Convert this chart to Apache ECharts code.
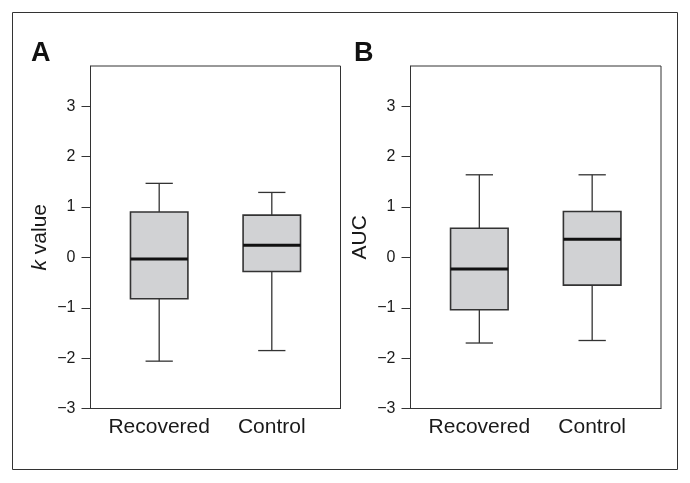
<!DOCTYPE html>
<html>
<head>
<meta charset="utf-8">
<script src="https://cdn.jsdelivr.net/npm/echarts@6/dist/echarts.min.js"></script>
<style>
html,body{margin:0;padding:0;background:#fff;}
#c{width:690px;height:483px;}
</style>
</head>
<body>
<div id="c"></div>
<script>
// Data (box statistics: [low whisker, Q1, median, Q3, high whisker])
const categories = ['Recovered', 'Control'];
const kValueBoxes = [
  [-2.06, -0.82, -0.03, 0.90, 1.47],
  [-1.85, -0.28, 0.24, 0.84, 1.29]
];
const aucBoxes = [
  [-1.70, -1.04, -0.23, 0.58, 1.64],
  [-1.65, -0.55, 0.36, 0.91, 1.64]
];
const yTicks = [-3, -2, -1, 0, 1, 2, 3];
const panelLetters = ['A', 'B'];
const yNames = ['k value', 'AUC'];

const FONT = '"Liberation Sans", Arial, Helvetica, sans-serif';
const TXT = '#1a1a1a';
const LINE = '#333';

function toSeriesData(boxes) {
  return boxes.map((b, i) => [i + 1].concat(b));
}

function renderBox(params, api) {
  const x = api.value(0);
  const low = api.value(1), q1 = api.value(2), med = api.value(3), q3 = api.value(4), high = api.value(5);
  const hw = 0.255, cw = 0.121;
  const p = (a, b) => api.coord([a, b]);
  const tl = p(x - hw, q3), br = p(x + hw, q1);
  const ln = (a, b, w, c) => ({
    type: 'line',
    shape: { x1: a[0], y1: a[1], x2: b[0], y2: b[1] },
    style: { stroke: c || LINE, lineWidth: w }
  });
  return {
    type: 'group',
    children: [
      ln(p(x, q3), p(x, high), 1.3),
      ln(p(x - cw, high), p(x + cw, high), 1.3),
      ln(p(x, q1), p(x, low), 1.3),
      ln(p(x - cw, low), p(x + cw, low), 1.3),
      {
        type: 'rect',
        shape: { x: tl[0], y: tl[1], width: br[0] - tl[0], height: br[1] - tl[1] },
        style: { fill: '#d1d2d4', stroke: LINE, lineWidth: 1.6 }
      },
      ln(p(x - hw, med), p(x + hw, med), 3, '#111')
    ]
  };
}

const grids = [
  { left: 90.5, top: 66, width: 250, height: 342.5 },
  { left: 410.5, top: 66, width: 250.5, height: 342.5 }
];

const xAxes = grids.map((g, i) => ({
  type: 'value', gridIndex: i, min: 0.39, max: 2.61,
  axisLine: { show: true, onZero: false, lineStyle: { color: LINE, width: 1 } },
  axisTick: { show: false },
  splitLine: { show: false },
  axisLabel: {
    customValues: [1, 2],
    formatter: v => categories[Math.round(v) - 1] || '',
    color: TXT, fontSize: 21, fontFamily: FONT, margin: 8
  }
}));

const yAxes = grids.map((g, i) => ({
  type: 'value', gridIndex: i, min: -3, max: 3.8,
  name: i === 0 ? '{i|k} value' : yNames[1],
  nameLocation: 'middle', nameGap: 40, nameRotate: 90,
  nameTextStyle: {
    color: TXT, fontSize: 21, fontFamily: FONT,
    rich: { i: { fontStyle: 'italic', fontSize: 21, fontFamily: FONT, color: TXT } }
  },
  axisLine: { show: true, onZero: false, lineStyle: { color: LINE, width: 1 } },
  axisTick: { show: true, length: 9, customValues: yTicks, lineStyle: { color: LINE, width: 1 } },
  splitLine: { show: false },
  axisLabel: {
    customValues: yTicks,
    formatter: v => String(v).replace('-', '\u2212'),
    color: TXT, fontSize: 16, fontFamily: FONT, margin: 15
  }
}));

const chart = echarts.init(document.getElementById('c'), null, { renderer: 'canvas' });
chart.setOption({
  animation: false,
  backgroundColor: '#fff',
  grid: grids.map(g => Object.assign({ show: true, borderColor: LINE, borderWidth: 1, backgroundColor: 'transparent' }, g)),
  xAxis: xAxes,
  yAxis: yAxes,
  graphic: [
    {
      type: 'rect', silent: true,
      shape: { x: 12.5, y: 12.5, width: 665, height: 457 },
      style: { fill: 'none', stroke: LINE, lineWidth: 1 }
    },
    {
      type: 'text', x: 31, y: 54,
      style: { text: panelLetters[0], fontSize: 27, fontWeight: 'bold', fontFamily: FONT, fill: '#111', verticalAlign: 'middle', align: 'left' }
    },
    {
      type: 'text', x: 354, y: 54,
      style: { text: panelLetters[1], fontSize: 27, fontWeight: 'bold', fontFamily: FONT, fill: '#111', verticalAlign: 'middle', align: 'left' }
    }
  ],
  series: [
    { type: 'custom', xAxisIndex: 0, yAxisIndex: 0, renderItem: renderBox, data: toSeriesData(kValueBoxes), encode: { x: 0, y: [1, 2, 3, 4, 5] } },
    { type: 'custom', xAxisIndex: 1, yAxisIndex: 1, renderItem: renderBox, data: toSeriesData(aucBoxes), encode: { x: 0, y: [1, 2, 3, 4, 5] } }
  ]
});
</script>
</body>
</html>
